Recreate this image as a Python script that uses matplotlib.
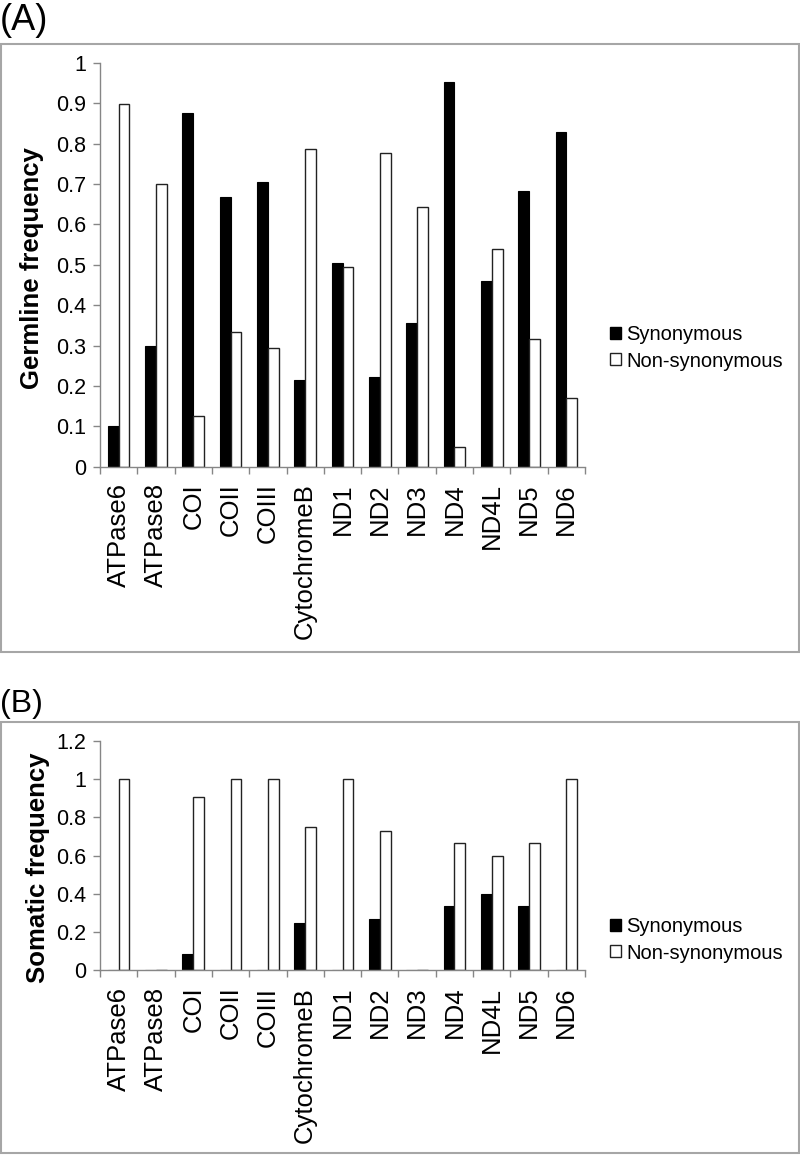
import numpy as np
import matplotlib
matplotlib.use("Agg")
import matplotlib.pyplot as plt
from matplotlib.patches import Patch, Rectangle
from matplotlib.ticker import FixedLocator

plt.rcParams['font.family'] = ['Liberation Sans', 'DejaVu Sans']

genes = ['ATPase6', 'ATPase8', 'COI', 'COII', 'COIII', 'CytochromeB', 'ND1',
         'ND2', 'ND3', 'ND4', 'ND4L', 'ND5', 'ND6']

# panel A - germline
germ_syn = [0.10, 0.30, 0.875, 0.667, 0.706, 0.214, 0.505, 0.222, 0.357, 0.952, 0.46, 0.684, 0.83]
germ_non = [0.898, 0.70, 0.125, 0.333, 0.294, 0.786, 0.495, 0.778, 0.643, 0.048, 0.54, 0.316, 0.17]
germ_ticks = [0, 0.1, 0.2, 0.3, 0.4, 0.5, 0.6, 0.7, 0.8, 0.9, 1]

# panel B - somatic
som_syn = [0, 0, 0.083, 0, 0, 0.245, 0, 0.267, 0, 0.333, 0.4, 0.333, 0]
som_non = [1, 0, 0.909, 1, 1, 0.75, 1, 0.727, 0, 0.667, 0.6, 0.667, 1]
som_ticks = [0, 0.2, 0.4, 0.6, 0.8, 1, 1.2]

W, H = 800, 1157
fig = plt.figure(figsize=(W / 100, H / 100), dpi=100)


def fx(px):
    return px / W


def fy(py):
    return 1 - py / H


axis_grey = '#868686'
frame_grey = '#a6a6a6'


def draw_panel(ax, syn, non, ticks, ylab, lab_xy, legend_xy):
    x = np.arange(len(genes))
    bw = 0.29
    ax.bar(x - bw / 2, syn, bw, color='black', edgecolor='black', linewidth=0.8)
    ax.bar(x + bw / 2, non, bw, color='white', edgecolor='#222222', linewidth=1.0)

    ax.set_xlim(-0.5, len(genes) - 0.5)
    ax.set_ylim(0, ticks[-1])
    for s in ['top', 'right']:
        ax.spines[s].set_visible(False)
    for s in ['left', 'bottom']:
        ax.spines[s].set_color(axis_grey)
        ax.spines[s].set_linewidth(1.0)

    ax.set_yticks(ticks)
    ax.set_yticklabels([f"{t:g}" for t in ticks], fontsize=15.5)
    ax.tick_params(axis='y', direction='out', length=5, width=1, color=axis_grey, pad=5)

    ax.set_xticks(x)
    ax.set_xticklabels(genes, rotation=90, fontsize=18.5)
    ax.tick_params(axis='x', which='major', length=0, pad=12)
    ax.xaxis.set_minor_locator(FixedLocator(np.arange(len(genes) + 1) - 0.5))
    ax.tick_params(axis='x', which='minor', direction='out', length=5, width=1, color=axis_grey)

    fig.text(fx(lab_xy[0]), fy(lab_xy[1]), ylab, rotation=90, fontsize=18.5,
             fontweight='bold', ha='center', va='center')

    handles = [Patch(facecolor='black', edgecolor='black', label='Synonymous'),
               Patch(facecolor='white', edgecolor='#222222', label='Non-synonymous')]
    fig.legend(handles=handles, loc='center left',
               bbox_to_anchor=(fx(legend_xy[0]), fy(legend_xy[1])),
               frameon=False, fontsize=14.5, handlelength=0.55, handleheight=0.55,
               handletextpad=0.25, labelspacing=0.35, borderpad=0, borderaxespad=0)


# outer frames
fig.patches.append(Rectangle((fx(0.5), fy(652)), fx(798.5), (652 - 44) / H,
                             transform=fig.transFigure, fill=False,
                             edgecolor=frame_grey, linewidth=1.5))
fig.patches.append(Rectangle((fx(0.5), fy(1153)), fx(798.5), (1153 - 722) / H,
                             transform=fig.transFigure, fill=False,
                             edgecolor=frame_grey, linewidth=1.5))

axA = fig.add_axes([fx(100), fy(466.7), 485 / W, (466.7 - 63) / H])
draw_panel(axA, germ_syn, germ_non, germ_ticks, 'Germline frequency',
           (32, 268), (610, 348))

axB = fig.add_axes([fx(100), fy(970), 485 / W, (970 - 741) / H])
draw_panel(axB, som_syn, som_non, som_ticks, 'Somatic frequency',
           (38, 868), (610, 940))

fig.text(fx(0), fy(21), '(A)', fontsize=26, ha='left', va='center')
fig.text(fx(0), fy(704), '(B)', fontsize=23, ha='left', va='center')

fig.savefig('out.png', dpi=100)
